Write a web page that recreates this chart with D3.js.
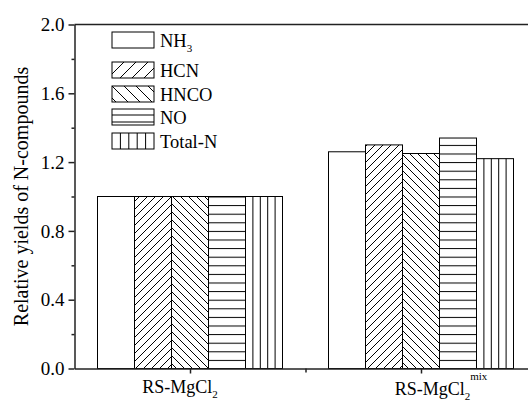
<!DOCTYPE html>
<html lang="en">
<head>
  <meta charset="UTF-8">
  <title>Relative yields of N-compounds</title>
  <script src="https://d3js.org/d3.v7.min.js"></script>
  <style>
    body { margin: 0; background: #fff; }
    svg { display: block; }
  </style>
</head>
<body>
  <div id="chart"></div>
  <script>
    // data
    const groups = ["RS-MgCl2", "RS-MgCl2mix"];
    const compounds = ["NH3", "HCN", "HNCO", "NO", "Total-N"];
    const nh3Values = [1.00, 1.26];
    const hcnValues = [1.00, 1.30];
    const hncoValues = [1.00, 1.25];
    const noValues = [1.00, 1.34];
    const totalNValues = [1.00, 1.22];
    const yTicks = [0, 0.4, 0.8, 1.2, 1.6, 2.0];
    const yMinorTicks = [0.2, 0.6, 1.0, 1.4, 1.8];

    const series = [nh3Values, hcnValues, hncoValues, noValues, totalNValues];
    const fills = ["#fff", "url(#hcn)", "url(#hnco)", "url(#no)", "#fff"];
    const serif = "'Liberation Serif', 'Times New Roman', serif";

    const width = 528, height = 401;
    const svg = d3.select("#chart").append("svg")
      .attr("width", width)
      .attr("height", height);

    // group index -> x position (plot runs past the right edge, as in the original)
    const x = d3.scaleLinear().domain([-0.5, 1.5]).range([74.5, 536.5]);
    const y = d3.scaleLinear().domain([0, 2]).range([368.5, 24.5]);
    const inner = d3.scaleBand().domain(compounds).range([-92.5, 92.5]);

    // hatch patterns
    const defs = svg.append("defs");
    function diag(id, d, size) {
      defs.append("pattern")
        .attr("id", id)
        .attr("patternUnits", "userSpaceOnUse")
        .attr("width", size).attr("height", size)
        .append("path")
        .attr("d", d)
        .attr("stroke", "#000")
        .attr("stroke-width", 1)
        .attr("fill", "none");
    }
    diag("hcn", "M0,8 L8,0 M-2,2 L2,-2 M6,10 L10,6", 8);
    diag("hnco", "M0,0 L8,8 M-2,6 L2,10 M6,-2 L10,2", 8);
    diag("hcnL", "M0,12 L12,0 M-2,2 L2,-2 M10,14 L14,10", 12);
    diag("hncoL", "M0,0 L12,12 M-2,10 L2,14 M10,-2 L14,2", 12);

    const step = y(0) - y(0.05);
    defs.append("pattern")
      .attr("id", "no")
      .attr("patternUnits", "userSpaceOnUse")
      .attr("y", y(0))
      .attr("width", 10).attr("height", step)
      .append("line")
      .attr("x1", 0).attr("x2", 10)
      .attr("y1", 0.5).attr("y2", 0.5)
      .attr("stroke", "#000")
      .attr("stroke-width", 1);

    // bars
    const bars = [];
    series.forEach((vals, k) => {
      vals.forEach((v, i) => {
        bars.push({ compound: compounds[k], k: k, group: i, value: v });
      });
    });

    const barG = svg.append("g");
    barG.selectAll("rect")
      .data(bars)
      .enter()
      .append("rect")
      .attr("x", d => x(d.group) + inner(d.compound))
      .attr("y", d => y(d.value))
      .attr("width", inner.bandwidth())
      .attr("height", d => y(0) - y(d.value))
      .attr("fill", d => fills[d.k])
      .attr("stroke", "#000")
      .attr("stroke-width", 1);

    // vertical hatch for Total-N: 4 lines splitting each bar in 5
    const vLines = [];
    bars.filter(d => d.compound === "Total-N").forEach(d => {
      for (let j = 1; j < 5; j++) {
        vLines.push({ x: x(d.group) + inner(d.compound) + j * inner.bandwidth() / 5, top: y(d.value) });
      }
    });
    barG.selectAll("line.v")
      .data(vLines)
      .enter()
      .append("line")
      .attr("class", "v")
      .attr("x1", d => d.x).attr("x2", d => d.x)
      .attr("y1", d => d.top).attr("y2", y(0))
      .attr("stroke", "#000")
      .attr("stroke-width", 1);

    // axes
    const axisColor = "#222";
    const yAxis = svg.append("g")
      .attr("transform", `translate(${x(-0.5)},0)`)
      .call(d3.axisLeft(y).tickValues(yTicks).tickSize(6).tickSizeOuter(0).tickFormat(d3.format(".1f")));
    svg.append("g")
      .attr("transform", `translate(${x(-0.5)},0)`)
      .call(d3.axisLeft(y).tickValues(yMinorTicks).tickSize(3).tickSizeOuter(0).tickFormat(""))
      .select(".domain").remove();
    yAxis.selectAll("text")
      .attr("x", -10)
      .attr("dy", "0.33em")
      .style("font-family", serif)
      .style("font-size", "19px");

    svg.append("g")
      .attr("transform", `translate(0,${y(0)})`)
      .call(d3.axisBottom(x).tickValues([0, 1]).tickSize(5).tickSizeOuter(0).tickFormat(""));
    svg.append("g")
      .attr("transform", `translate(0,${y(0)})`)
      .call(d3.axisBottom(x).tickValues([0.5]).tickSize(4).tickSizeOuter(0).tickFormat(""))
      .select(".domain").remove();

    // top frame line
    svg.append("line")
      .attr("x1", x(-0.5)).attr("x2", x(1.5))
      .attr("y1", y(2)).attr("y2", y(2))
      .attr("stroke", axisColor)
      .attr("stroke-width", 1.5);

    svg.selectAll(".domain, .tick line")
      .attr("stroke", axisColor)
      .attr("stroke-width", 1.5);

    function label(sel, size) {
      return sel.style("font-family", serif).style("font-size", size + "px").attr("fill", "#000");
    }

    // x category labels
    const xl1 = label(svg.append("text"), 18)
      .attr("x", x(0) - 10).attr("y", 393)
      .attr("text-anchor", "middle");
    xl1.append("tspan").text("RS-MgCl");
    label(xl1.append("tspan"), 11).attr("dy", 5).text("2");

    const xl2 = label(svg.append("text"), 18)
      .attr("x", x(1) + 20).attr("y", 395)
      .attr("text-anchor", "middle");
    xl2.append("tspan").text("RS-MgCl");
    label(xl2.append("tspan"), 11).attr("dy", 5).text("2");
    label(xl2.append("tspan"), 11).attr("dy", -20).text("mix");

    // y title
    label(svg.append("text"), 20)
      .attr("transform", `translate(28,${(y(0) + y(2)) / 2}) rotate(-90)`)
      .attr("text-anchor", "middle")
      .text("Relative yields of N-compounds");

    // legend
    const legendFills = ["#fff", "url(#hcnL)", "url(#hncoL)", "#fff", "#fff"];
    const legendRows = [32, 62, 86, 109, 133];
    const lg = svg.append("g");
    compounds.forEach((c, k) => {
      const g = lg.append("g").attr("transform", `translate(112,${legendRows[k]})`);
      g.append("rect")
        .attr("width", 42).attr("height", 16)
        .attr("fill", legendFills[k])
        .attr("stroke", "#000")
        .attr("stroke-width", 1);
      if (c === "NO") {
        [6, 13].forEach(yy => g.append("line")
          .attr("x1", 0).attr("x2", 42).attr("y1", yy).attr("y2", yy)
          .attr("stroke", "#000"));
      }
      if (c === "Total-N") {
        d3.range(1, 5).forEach(j => g.append("line")
          .attr("x1", j * 42 / 5).attr("x2", j * 42 / 5).attr("y1", 0).attr("y2", 16)
          .attr("stroke", "#000"));
      }
      const t = label(g.append("text"), 18.5).attr("x", 48).attr("y", 14.5);
      if (c === "NH3") {
        t.append("tspan").text("NH");
        label(t.append("tspan"), 11).attr("dy", 5).text("3");
      } else {
        t.text(c);
      }
    });
  </script>
</body>
</html>
